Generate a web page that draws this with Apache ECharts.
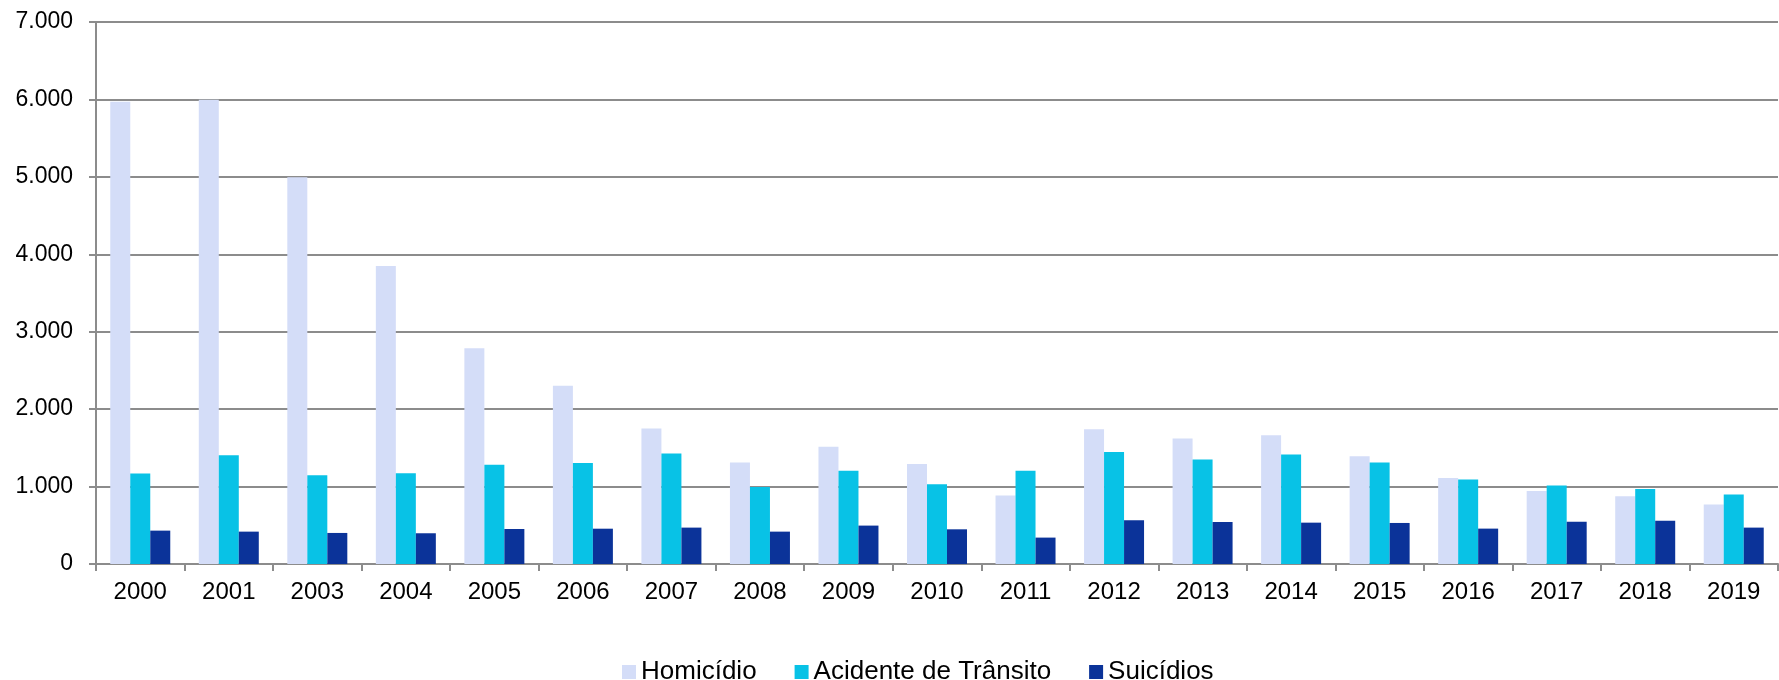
<!DOCTYPE html>
<html>
<head>
<meta charset="utf-8">
<script src="https://cdn.jsdelivr.net/npm/echarts@6/dist/echarts.min.js"></script>
<style>
  html, body { margin: 0; padding: 0; background: #fff; }
  #chart { width: 1779px; height: 680px; }
</style>
</head>
<body>
<div id="chart"></div>
<script>
// anos (eixo x)
const categories = ["2000", "2001", "2003", "2004", "2005", "2006", "2007", "2008", "2009", "2010",
  "2011", "2012", "2013", "2014", "2015", "2016", "2017", "2018", "2019"];

// valores
const homicidio = [5970, 5995, 4995, 3850, 2785, 2303, 1750, 1310, 1513, 1293,
  884, 1741, 1621, 1664, 1392, 1112, 944, 875, 767];
const transito = [1168, 1405, 1146, 1172, 1283, 1305, 1427, 996, 1203, 1030,
  1203, 1448, 1349, 1414, 1310, 1091, 1013, 970, 897];
const suicidios = [431, 418, 401, 397, 452, 456, 470, 418, 496, 448,
  341, 565, 543, 534, 530, 457, 547, 560, 470];

const seriesNames = ["Homicídio", "Acidente de Trânsito", "Suicídios"];
const colors = ["#d4ddf8", "#08c2e6", "#0b3399"];

const font = "'Liberation Sans', Arial, sans-serif";
const gray = "#8c8c8c";

let myChart = echarts.init(document.getElementById("chart"));

let option = {
  animation: false,
  color: colors,
  grid: {
    left: 96,
    right: 1,
    top: 22,
    bottom: 116,
  },
  legend: {
    data: seriesNames,
    left: 617,
    top: 654,
    itemWidth: 14,
    itemHeight: 14,
    itemGap: 38,
    icon: "rect",
    textStyle: { fontSize: 26, color: "#000", fontFamily: font },
  },
  xAxis: {
    type: "category",
    data: categories,
    axisLine: { lineStyle: { color: gray, width: 2 } },
    axisTick: { show: true, length: 7, lineStyle: { color: gray, width: 2 } },
    axisLabel: { fontSize: 24, color: "#000", fontFamily: font, margin: 16, interval: 0 },
  },
  yAxis: {
    type: "value",
    min: 0,
    max: 7000,
    interval: 1000,
    axisLine: { show: true, lineStyle: { color: gray, width: 2 } },
    axisTick: { show: true, length: 7, lineStyle: { color: gray, width: 2 } },
    splitLine: { show: true, lineStyle: { color: gray, width: 2 } },
    axisLabel: {
      fontSize: 23,
      color: "#000",
      fontFamily: font,
      margin: 23,
      // separador de milhar com ponto
      formatter: function (v) {
        return v.toString().replace(/\B(?=(\d{3})+(?!\d))/g, ".");
      },
    },
  },
  series: [
    { name: seriesNames[0], type: "bar", data: homicidio, barWidth: 20, barGap: "0%" },
    { name: seriesNames[1], type: "bar", data: transito, barWidth: 20, barGap: "0%" },
    { name: seriesNames[2], type: "bar", data: suicidios, barWidth: 20, barGap: "0%" },
  ],
};

option && myChart.setOption(option);
</script>
</body>
</html>
